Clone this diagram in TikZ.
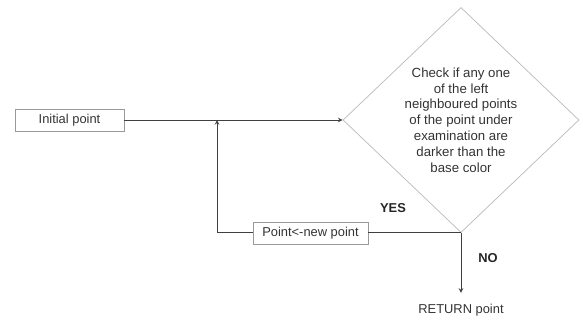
\documentclass[tikz,border=0pt]{standalone}
\usepackage{fontspec}
\setmainfont{Liberation Sans}
\usetikzlibrary{positioning, shapes.geometric, calc}

\begin{document}
\begin{tikzpicture}[
        font=\fontsize{11}{13.5}\selectfont,
        >=stealth,
        box/.style={draw=gray!80, line width=0.6pt, minimum width=3.27cm, minimum height=0.66cm, inner sep=0pt, text=black!80},
        decision/.style={draw=gray!55, line width=0.6pt, diamond, minimum width=7.08cm, minimum height=6.75cm, inner sep=0pt, align=center, text=black!80, font=\fontsize{11.3}{13.5}\selectfont},
        flow/.style={draw=black!75, line width=0.8pt},
        tag/.style={font=\fontsize{11}{13}\selectfont\bfseries, text=black!85}
    ]
    \useasboundingbox (0,0) rectangle (17.49,9.6);

    % Start
    \node[box] (init) at (2.085,6.0) {Initial point};

    % Decision
    \node[decision] (check) at (13.83,6.0) {Check if any one\\of the left\\neighboured points\\of the point under\\examination are\\darker than the\\base color};

    % Loop back
    \coordinate (updx) at (9.315,0);
    \coordinate (join) at (6.51,6.0);
    \node[box, minimum width=3.45cm] (update) at (updx |- check.south) {Point<-new point};

    % Result
    \node[anchor=base, inner ysep=9pt, text=black!80] (ret) at (13.83,0.21) {RETURN point};

    % Labels
    \node[tag] (yes) at (11.79,3.36) {YES};
    \node[tag] (no) at (14.64,1.86) {NO};

    % Connections
    \draw[flow, ->] (init.east) -- (check.west);
    \draw[flow] (check.south) -- (update.east);
    \draw[flow, ->] (update.west) -| (join);
    \draw[flow, ->] (check.south) -- (ret.north);

\end{tikzpicture}
\end{document}
